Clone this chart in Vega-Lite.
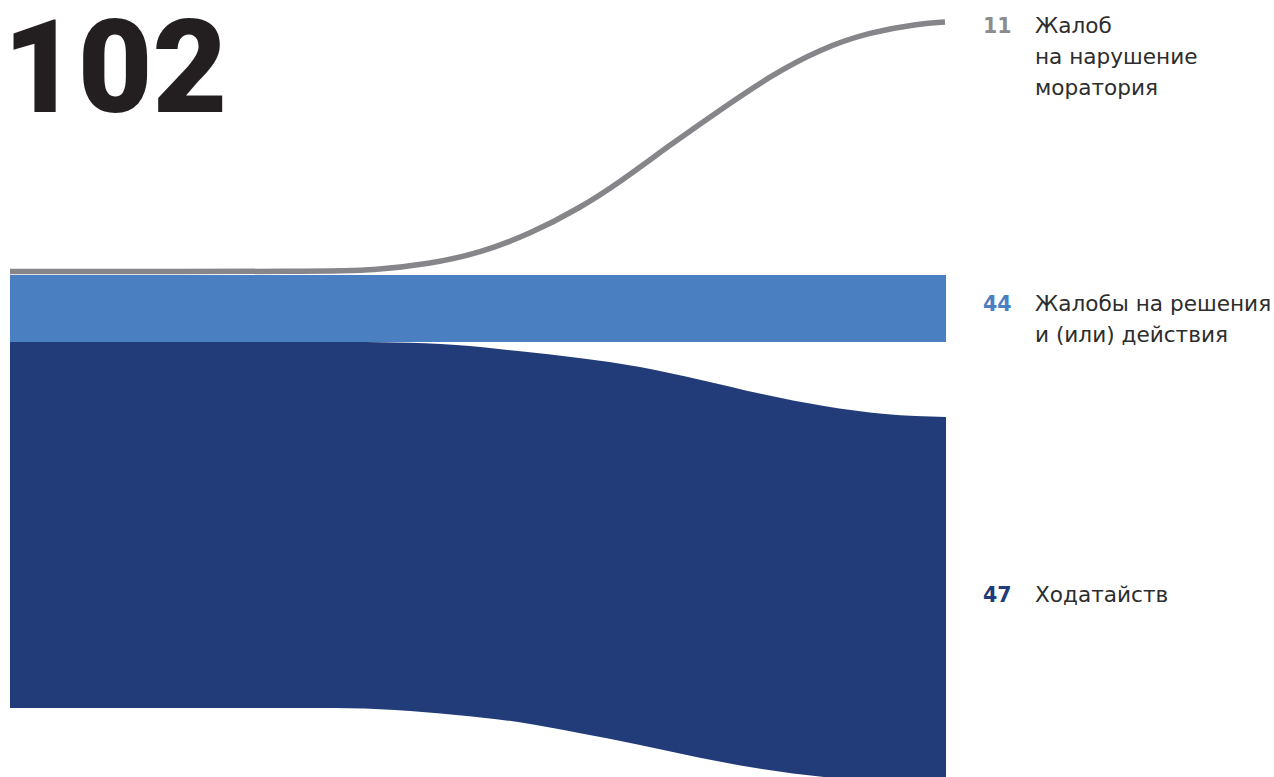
{
  "$schema": "https://vega.github.io/schema/vega-lite/v6.json",
  "width": 1274,
  "height": 777,
  "autosize": {"type": "none"},
  "padding": 0,
  "background": "white",
  "config": {"view": {"stroke": null}},
  "datasets": {
    "dark": [
      {"x": 10, "top": 342, "bottom": 708},
      {"x": 334, "top": 342, "bottom": 708},
      {"x": 395, "top": 342.5, "bottom": 710},
      {"x": 456, "top": 345, "bottom": 715},
      {"x": 518, "top": 351, "bottom": 722},
      {"x": 579, "top": 358, "bottom": 733},
      {"x": 640, "top": 367, "bottom": 745},
      {"x": 701, "top": 380, "bottom": 758},
      {"x": 762, "top": 394, "bottom": 769},
      {"x": 824, "top": 406, "bottom": 777},
      {"x": 885, "top": 414, "bottom": 782},
      {"x": 946, "top": 417, "bottom": 784}
    ],
    "light": [
      {"x": 10, "x2": 946, "top": 275, "bottom": 342}
    ],
    "gray": [
      {"x": 10, "y": 271.5},
      {"x": 334, "y": 271.5},
      {"x": 370, "y": 270.5},
      {"x": 430, "y": 264},
      {"x": 480, "y": 253},
      {"x": 530, "y": 234},
      {"x": 580, "y": 208},
      {"x": 620, "y": 182},
      {"x": 670, "y": 145},
      {"x": 720, "y": 110},
      {"x": 770, "y": 76},
      {"x": 820, "y": 49},
      {"x": 870, "y": 32},
      {"x": 920, "y": 23.5},
      {"x": 945, "y": 22}
    ],
    "numbers": [
      {"n": "11", "y": 33, "group": "moratorium"},
      {"n": "44", "y": 311, "group": "complaints"},
      {"n": "47", "y": 602, "group": "petitions"}
    ],
    "lines": [
      {"text": "Жалоб", "y": 33},
      {"text": "на нарушение", "y": 64},
      {"text": "моратория", "y": 95},
      {"text": "Жалобы на решения", "y": 311},
      {"text": "и (или) действия", "y": 342},
      {"text": "Ходатайств", "y": 602}
    ]
  },
  "layer": [
    {
      "data": {"name": "dark"},
      "mark": {"type": "area", "orient": "vertical", "interpolate": "monotone", "color": "#223b79", "clip": true},
      "encoding": {
        "x": {"field": "x", "type": "quantitative", "scale": {"domain": [0, 1274], "nice": false, "zero": false}, "axis": null},
        "y": {"field": "top", "type": "quantitative", "scale": {"domain": [0, 777], "reverse": true, "nice": false, "zero": false}, "axis": null},
        "y2": {"field": "bottom"}
      }
    },
    {
      "data": {"name": "light"},
      "mark": {"type": "rect", "color": "#4a80c1"},
      "encoding": {
        "x": {"field": "x", "type": "quantitative"},
        "x2": {"field": "x2"},
        "y": {"field": "top", "type": "quantitative"},
        "y2": {"field": "bottom"}
      }
    },
    {
      "data": {"name": "gray"},
      "mark": {"type": "line", "interpolate": "basis", "color": "#86868a", "strokeWidth": 5.5, "strokeCap": "butt"},
      "encoding": {
        "x": {"field": "x", "type": "quantitative"},
        "y": {"field": "y", "type": "quantitative"}
      }
    },
    {
      "data": {"values": [{"t": "102"}]},
      "mark": {"type": "text", "align": "left", "baseline": "alphabetic", "font": "Roboto", "fontWeight": 900, "fontSize": 129, "color": "#231f20"},
      "encoding": {
        "x": {"datum": 3},
        "y": {"datum": 112},
        "text": {"field": "t"}
      }
    },
    {
      "data": {"name": "numbers"},
      "mark": {"type": "text", "align": "left", "baseline": "alphabetic", "font": "DejaVu Sans", "fontWeight": "bold", "fontSize": 20.5},
      "encoding": {
        "x": {"datum": 983},
        "y": {"field": "y", "type": "quantitative"},
        "text": {"field": "n"},
        "color": {"field": "group", "type": "nominal", "scale": {"domain": ["moratorium", "complaints", "petitions"], "range": ["#8c8c8f", "#4a80c1", "#223b79"]}, "legend": null}
      }
    },
    {
      "data": {"name": "lines"},
      "mark": {"type": "text", "align": "left", "baseline": "alphabetic", "font": "DejaVu Sans", "fontSize": 21.6, "color": "#2d2d2d"},
      "encoding": {
        "x": {"datum": 1035},
        "y": {"field": "y", "type": "quantitative"},
        "text": {"field": "text"}
      }
    }
  ]
}
